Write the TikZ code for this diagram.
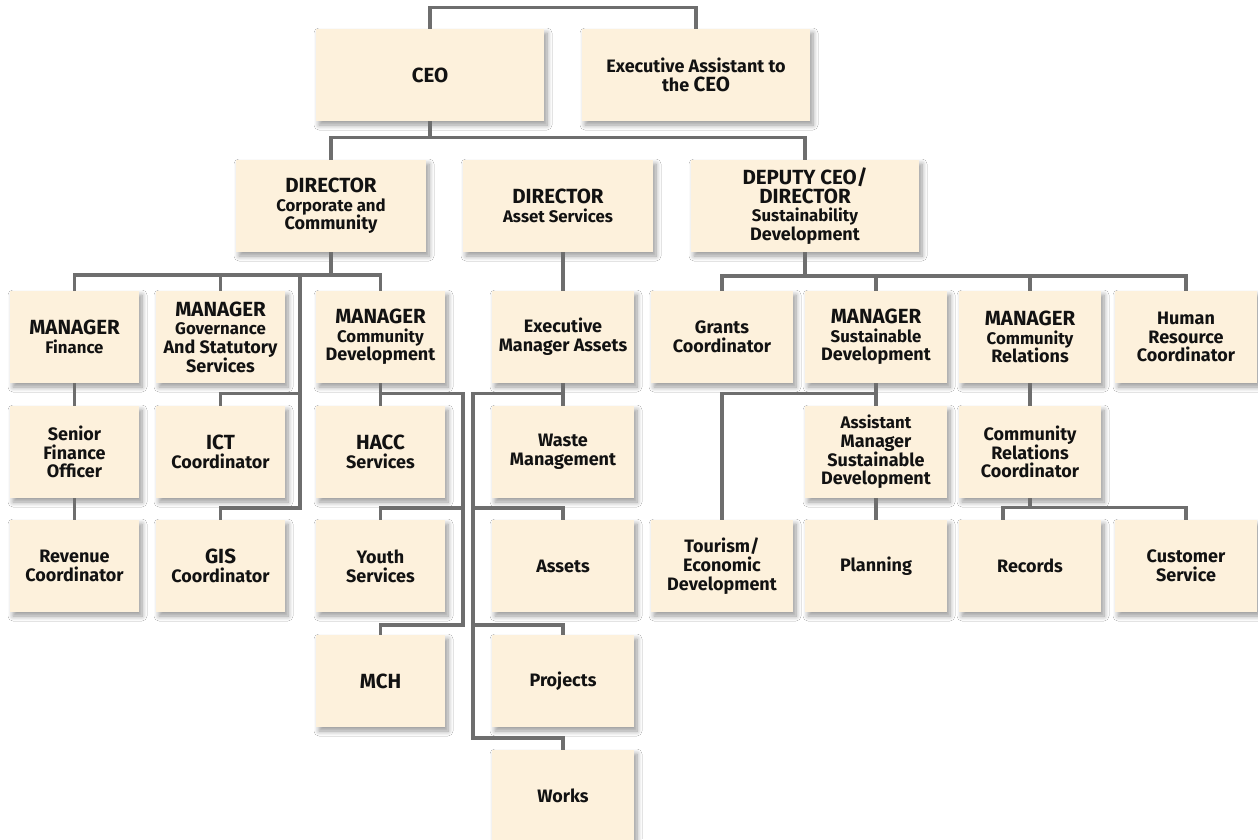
\documentclass[tikz,border=0pt]{standalone}
\usepackage{fontspec}
\setmainfont{Fira Sans}
\usetikzlibrary{shadows.blur}
\definecolor{boxfill}{HTML}{FDF1DC}
\definecolor{linegray}{HTML}{6E6E6E}
\definecolor{txt}{HTML}{121212}
\newcommand{\ttlfont}{\bfseries\fontsize{18}{18.7}\selectfont}
\newcommand{\subt}{\fontsize{16.8}{18}\selectfont}
\newcommand{\capw}[1]{{\fontsize{20.5}{18.7}\selectfont #1}}
\begin{document}
\begin{tikzpicture}[x=1pt,y=-1pt,
  box/.style={fill=boxfill, text=txt, inner sep=0pt, align=center,
    minimum height=92pt, font=\ttlfont,
    blur shadow={shadow xshift=3pt, shadow yshift=-4pt, shadow blur steps=8,
      shadow blur radius=5pt, shadow opacity=40}},
  wA/.style={box, minimum width=228pt},
  wB/.style={box, minimum width=190pt},
  wC/.style={box, minimum width=129pt},
  wD/.style={box, minimum width=142pt},
  conn/.style={draw=linegray, line width=3.2pt}
]
\path[use as bounding box, fill=white] (0,0) rectangle (1258,839);

% top levels
\node[wA] (ceo) at (430,75) {\capw{CEO}};
\node[wA] (ea) at (696,75) {Executive Assistant to\\the \capw{CEO}};
\node[wB] (dcc) at (331,206) {\capw{DIRECTOR}\\\subt Corporate and\\Community};
\node[wB] (das) at (558,206) {\capw{DIRECTOR}\\\subt Asset Services};
\node[wA] (dep) at (805,206) {\capw{DEPUTY CEO/}\\\capw{DIRECTOR}\\\subt Sustainability\\Development};

% row 2
\node[wC] (mfin) at (74.5,337) {\capw{MANAGER}\\\subt Finance};
\node[wC] (mgov) at (220.5,337) {\capw{MANAGER}\\\subt Governance\\And Statutory\\Services};
\node[wC] (mcd) at (380.5,337) {\capw{MANAGER}\\\subt Community\\Development};
\node[wD] (ema) at (563,337) {Executive\\Manager Assets};
\node[wD] (grants) at (722,337) {Grants\\Coordinator};
\node[wD] (msd) at (876,337) {\capw{MANAGER}\\\subt Sustainable\\Development};
\node[wD] (mcr) at (1030,337) {\capw{MANAGER}\\\subt Community\\Relations};
\node[wD] (hr) at (1186,337) {Human\\Resource\\Coordinator};

% row 3
\node[wC] (sfo) at (74.5,452) {Senior\\Finance\\Officer};
\node[wC] (ict) at (220.5,452) {\capw{ICT}\\Coordinator};
\node[wC] (hacc) at (380.5,452) {\capw{HACC}\\Services};
\node[wD] (waste) at (563,452) {Waste\\Management};
\node[wD] (asm) at (876,452) {\subt Assistant\\Manager\\Sustainable\\Development};
\node[wD] (crc) at (1030,452) {Community\\Relations\\Coordinator};

% row 4
\node[wC] (rev) at (74.5,566) {Revenue\\Coordinator};
\node[wC] (gis) at (220.5,566) {\capw{GIS}\\Coordinator};
\node[wC] (youth) at (380.5,566) {Youth\\Services};
\node[wD] (assets) at (563,566) {Assets};
\node[wD] (tour) at (722,566) {Tourism/\\Economic\\Development};
\node[wD] (plan) at (876,566) {Planning};
\node[wD] (rec) at (1030,566) {Records};
\node[wD] (cs) at (1186,566) {Customer\\Service};

% rows 5, 6
\node[wC] (mch) at (380.5,681) {\capw{MCH}};
\node[wD] (proj) at (563,681) {Projects};
\node[wD] (works) at (563,796) {Works};

% connectors
\draw[conn] (ceo.north) -- ++(0,-21) -| (ea.north);
\coordinate (bus1) at (0,137.5);
\draw[conn] (ceo.south) -- (ceo.south|-bus1);
\draw[conn] (dcc.north) -- (dcc.north|-bus1) -| (dep.north);

\coordinate (bus2) at (0,275);
\draw[conn] (dcc.south) -- (dcc.south|-bus2);
\draw[conn] (mfin.north) -- (mfin.north|-bus2) -| (mcd.north);
\draw[conn] (mgov.north) -- (mgov.north|-bus2);
\coordinate (ictTop) at (300,275);
\coordinate (ictMid) at (300,393.5);
\coordinate (ictBot) at (300,508);
\draw[conn] (ictTop) -- (ictBot) -| (gis.north);
\draw[conn] (ict.north) |- (ictMid);

\draw[conn] (mfin.south) -- (sfo.north);
\draw[conn] (sfo.south) -- (rev.north);

\draw[conn] (mcd.south) -- (hacc.north);
\coordinate (cdA) at (463,393.5);
\coordinate (cdB) at (463,508);
\coordinate (cdC) at (463,625);
\draw[conn] (mcd.south) |- (cdA) -- (cdC) -| (mch.north);
\draw[conn] (youth.north) |- (cdB);

\draw[conn] (ema.north) -- (ema.north|-das.south);
\draw[conn] (ema.south) -- (waste.north);
\coordinate (amA) at (473,393.5);
\coordinate (amB) at (473,508);
\coordinate (amC) at (473,625);
\coordinate (amD) at (473,738);
\draw[conn] (ema.south) |- (amA) -- (amD) -| (works.north);
\draw[conn] (assets.north) |- (amB);
\draw[conn] (proj.north) |- (amC);

\coordinate (bus3) at (0,276);
\draw[conn] (dep.south) -- (dep.south|-bus3);
\draw[conn] (grants.north) -- (grants.north|-bus3) -| (hr.north);
\draw[conn] (msd.north) -- (msd.north|-bus3);
\draw[conn] (mcr.north) -- (mcr.north|-bus3);
\draw[conn] (msd.south) -- (asm.north);
\draw[conn] (msd.south) -- ++(0,10.5) -| (tour.north);
\draw[conn] (asm.south) -- (plan.north);
\draw[conn] (mcr.south) -- (crc.north);
\draw[conn] (crc.south) -- ++(0,10);
\draw[conn] ([xshift=-27pt]rec.north) -- ++(0,-12) -| (cs.north);
\end{tikzpicture}
\end{document}
